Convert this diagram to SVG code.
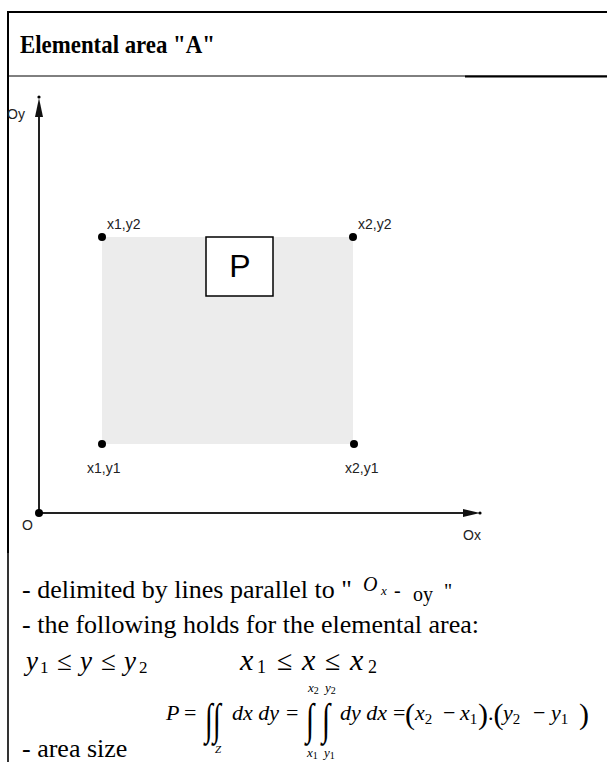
<svg xmlns="http://www.w3.org/2000/svg" width="607" height="762" viewBox="0 0 607 762">
<style>
.ax{stroke:#222;stroke-width:2;fill:none}
.lbl{font-family:"Liberation Sans",Arial,sans-serif;font-size:14px;fill:#222}
.txt{font-family:"Liberation Serif","Times New Roman",serif;font-size:26px;fill:#000}
.m{font-family:"Liberation Serif","Times New Roman",serif;font-style:italic;fill:#000}
.r{font-family:"Liberation Serif","Times New Roman",serif;fill:#000}
.dot{fill:#000}
.brd{stroke:#000;fill:none}
</style>
<rect width="607" height="762" fill="#fff"/>
<g id="frame">
<line class="brd" x1="7" y1="12" x2="607" y2="12" stroke-width="2"/>
<line class="brd" x1="8" y1="11" x2="8" y2="553" stroke-width="2"/>
<line class="brd" x1="8" y1="553" x2="8" y2="762" stroke-width="1.6"/>
<line class="brd" x1="8" y1="76" x2="607" y2="76" stroke-width="1"/>
<line class="brd" x1="465" y1="76.5" x2="607" y2="76.5" stroke-width="2"/>
</g>
<g id="title">
<text class="r" x="20" y="53" font-size="25" font-weight="bold" textLength="195" lengthAdjust="spacingAndGlyphs">Elemental area "A"</text>
</g>
<g id="area">
<rect x="102" y="237" width="251" height="207" fill="#ececec"/>
</g>
<g id="connectors">
<line class="ax" x1="39" y1="513" x2="39" y2="114"/>
<polygon points="39,98 35,117 43,117" fill="#111"/>
<circle cx="39" cy="97" r="1.6" class="dot"/>
<line class="ax" x1="39" y1="513" x2="466" y2="513"/>
<polygon points="480,513 463,509 463,517" fill="#111"/>
<circle cx="480" cy="513" r="1.6" class="dot"/>
</g>
<g id="origin">
<circle cx="39" cy="513" r="4" class="dot"/>
<text class="lbl" x="22" y="530">O</text>
</g>
<g id="axis-oy"><text class="lbl" x="7" y="119">Oy</text></g>
<g id="axis-ox"><text class="lbl" x="463" y="540">Ox</text></g>
<g id="pt-x1y2"><circle cx="102" cy="237" r="4" class="dot"/><text class="lbl" x="107" y="229">x1,y2</text></g>
<g id="pt-x2y2"><circle cx="353" cy="237" r="4" class="dot"/><text class="lbl" x="358" y="229">x2,y2</text></g>
<g id="pt-x1y1"><circle cx="102" cy="444" r="4" class="dot"/><text class="lbl" x="87" y="473">x1,y1</text></g>
<g id="pt-x2y1"><circle cx="354" cy="444" r="4" class="dot"/><text class="lbl" x="345" y="473">x2,y1</text></g>
<g id="P">
<rect x="206" y="237" width="67" height="59" fill="#fff" stroke="#000" stroke-width="1.5"/>
<text x="240" y="277" text-anchor="middle" font-family="Liberation Sans, Arial, sans-serif" font-size="32">P</text>
</g>
<g id="text">
<text class="txt" x="22" y="598">- delimited by lines parallel to "</text>
<text class="m" x="363" y="591" font-size="20">O</text>
<text class="m" x="381" y="595" font-size="13">x</text>
<text class="r" x="394" y="597" font-size="20">-</text>
<text class="r" x="413" y="601" font-size="20">oy</text>
<text class="r" x="444" y="598" font-size="20">"</text>
<text class="txt" x="22" y="633">- the following holds for the elemental area:</text>
<text class="m" x="26" y="670" font-size="27">y</text>
<text class="r" x="40" y="673" font-size="17">1</text>
<text class="r" x="57" y="670" font-size="27">≤</text>
<text class="m" x="80" y="670" font-size="27">y</text>
<text class="r" x="101" y="670" font-size="27">≤</text>
<text class="m" x="124" y="670" font-size="27">y</text>
<text class="r" x="139" y="673" font-size="17">2</text>
<text class="m" x="240" y="670" font-size="30">x</text>
<text class="r" x="257" y="673" font-size="18">1</text>
<text class="r" x="277" y="670" font-size="28">≤</text>
<text class="m" x="302" y="670" font-size="30">x</text>
<text class="r" x="325" y="670" font-size="28">≤</text>
<text class="m" x="350" y="670" font-size="30">x</text>
<text class="r" x="368" y="673" font-size="18">2</text>
<text class="m" x="166" y="720" font-size="22">P</text>
<text class="r" x="184" y="720" font-size="22">=</text>
<text class="r" x="205" y="734" font-size="40" transform="translate(205 734) scale(0.72 1.1) translate(-205 -734)">∫∫</text>
<text class="m" x="215" y="753" font-size="11">Z</text>
<text class="m" x="232" y="720" font-size="22">dx dy</text>
<text class="r" x="286" y="720" font-size="22">=</text>
<text class="r" x="306" y="734" font-size="40" transform="translate(306 734) scale(0.75 1.1) translate(-306 -734)">∫</text>
<text class="r" x="322" y="734" font-size="40" transform="translate(322 734) scale(0.75 1.1) translate(-322 -734)">∫</text>
<text class="m" x="308" y="692" font-size="13">x<tspan font-style="normal" font-size="10" dy="2">2</tspan></text>
<text class="m" x="325" y="692" font-size="13">y<tspan font-style="normal" font-size="10" dy="2">2</tspan></text>
<text class="m" x="307" y="757" font-size="13">x<tspan font-style="normal" font-size="10" dy="2">1</tspan></text>
<text class="m" x="324" y="757" font-size="13">y<tspan font-style="normal" font-size="10" dy="2">1</tspan></text>
<text class="m" x="340" y="720" font-size="22">dy dx</text>
<text class="r" x="393" y="720" font-size="22">=</text>
<text class="r" x="405" y="724" font-size="30">(</text>
<text class="m" x="415" y="720" font-size="22">x<tspan class="r" font-style="normal" font-size="15" dy="4">2</tspan></text>
<text class="r" x="443" y="720" font-size="22">−</text>
<text class="m" x="460" y="720" font-size="22">x<tspan class="r" font-style="normal" font-size="15" dy="4">1</tspan></text>
<text class="r" x="478" y="724" font-size="30">)<tspan font-size="22" dy="-4">.</tspan><tspan font-size="30" dy="4">(</tspan></text>
<text class="m" x="503" y="720" font-size="22">y<tspan class="r" font-style="normal" font-size="15" dy="4">2</tspan></text>
<text class="r" x="533" y="720" font-size="22">−</text>
<text class="m" x="551" y="720" font-size="22">y<tspan class="r" font-style="normal" font-size="15" dy="4">1</tspan></text>
<text class="r" x="579" y="724" font-size="30">)</text>
<text class="txt" x="22" y="757">- area size</text>
</g>
</svg>
